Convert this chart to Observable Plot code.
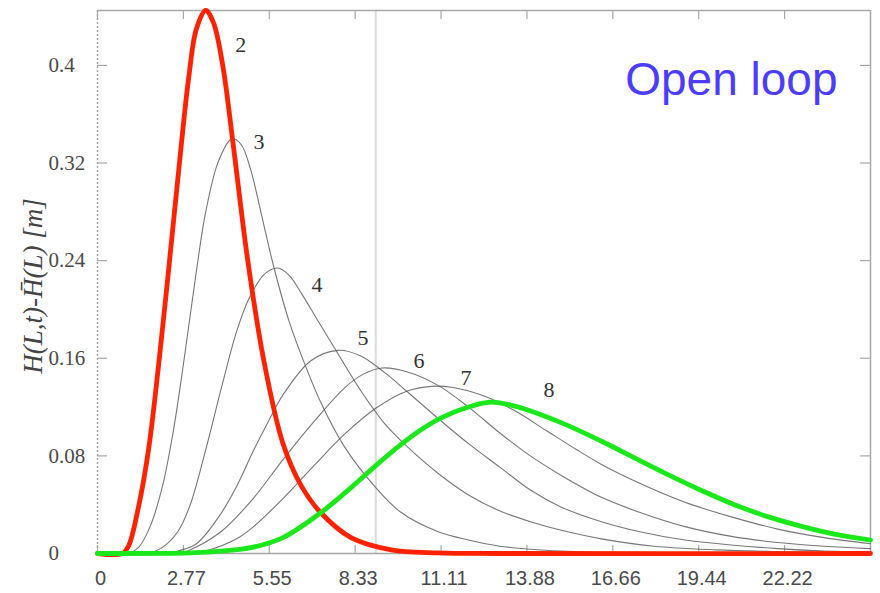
<!DOCTYPE html>
<html>
<head>
<meta charset="utf-8">
<script src="https://cdn.jsdelivr.net/npm/d3@7"></script>
<script src="https://cdn.jsdelivr.net/npm/@observablehq/plot@0.6"></script>
<style>
  html, body { margin: 0; padding: 0; background: #fff; }
</style>
</head>
<body>
<div id="chart"></div>
<script>
// ---- data ----
const xDomain = [0, 25];
const yDomain = [0, 0.445];
const xTickValues = [0, 2.7778, 5.5556, 8.3333, 11.1111, 13.8889, 16.6667, 19.4444, 22.2222];
const xTickLabels = ["0", "2.77", "5.55", "8.33", "11.11", "13.88", "16.66", "19.44", "22.22"];
const yTickValues = [0, 0.08, 0.16, 0.24, 0.32, 0.4];
const yTickLabels = ["0", "0.08", "0.16", "0.24", "0.32", "0.4"];
const refLineX = [9.0];
const yTitle = "H(L,t)-H\u0304(L) [m]";
const annotation = "Open loop";

const curveNames = ["2", "3", "4", "5", "6", "7", "8"];
const t2 = [0, 0.8, 1.0, 1.3, 1.65, 2.0, 2.33, 2.65, 2.95, 3.2, 3.5, 3.75, 4.05, 4.37, 4.86, 5.38, 6.0, 6.6, 7.2, 8.2, 9.5, 11, 13, 25];
const h2 = [0, 0, 0.006, 0.035, 0.085, 0.16, 0.24, 0.32, 0.39, 0.43, 0.445, 0.435, 0.40, 0.339, 0.24, 0.158, 0.09, 0.055, 0.034, 0.013, 0.003, 0.0005, 0, 0];
const t3 = [0, 1.0, 1.33, 1.7, 2.1, 2.45, 2.75, 3.18, 3.5, 3.92, 4.35, 4.65, 4.96, 5.3, 5.7, 6.2, 6.6, 7.2, 8.0, 9.0, 9.8, 11, 12, 13, 15, 17, 25];
const h3 = [0, 0, 0.005, 0.022, 0.055, 0.1, 0.15, 0.228, 0.28, 0.322, 0.340, 0.335, 0.314, 0.278, 0.235, 0.19, 0.162, 0.125, 0.087, 0.054, 0.034, 0.018, 0.011, 0.006, 0.002, 0.0005, 0];
const t4 = [0, 1.6, 2.1, 2.6, 3.0, 3.5, 4.05, 4.5, 4.9, 5.4, 5.83, 6.2, 6.6, 7.1, 7.65, 8.5, 9.3, 10.0, 11, 12, 13, 14, 15, 16.3, 18, 20, 22, 25];
const h4 = [0, 0, 0.005, 0.018, 0.04, 0.085, 0.14, 0.182, 0.209, 0.229, 0.234, 0.228, 0.213, 0.192, 0.169, 0.134, 0.106, 0.088, 0.066, 0.048, 0.035, 0.026, 0.019, 0.012, 0.006, 0.003, 0.0015, 0];
const t5 = [0, 2.3, 2.6, 3.2, 4.0, 4.5, 5.0, 5.5, 6.0, 6.9, 7.78, 8.5, 9.3, 10, 11, 12, 13, 14, 15, 16.3, 17.5, 19, 20.5, 22, 23.5, 25];
const h5 = [0, 0, 0.002, 0.008, 0.033, 0.055, 0.082, 0.107, 0.13, 0.158, 0.1665, 0.162, 0.148, 0.133, 0.111, 0.09, 0.071, 0.052, 0.038, 0.026, 0.018, 0.011, 0.007, 0.004, 0.002, 0.001];
const t6 = [0, 2.6, 3.0, 4.0, 5.0, 6.0, 7.0, 8.0, 8.6, 9.2, 10, 11, 12, 13, 14, 15, 16.3, 17.5, 19, 20.5, 22, 23.5, 25];
const h6 = [0, 0, 0.003, 0.018, 0.044, 0.077, 0.108, 0.136, 0.147, 0.152, 0.149, 0.138, 0.12, 0.099, 0.08, 0.064, 0.046, 0.034, 0.022, 0.014, 0.009, 0.006, 0.004];
const t7 = [0, 3.0, 3.5, 4.5, 5.0, 6.0, 7.0, 8.0, 9.0, 10.0, 10.8, 11.5, 12.5, 13.5, 14.5, 15.5, 16.3, 17.5, 19, 20.5, 22, 23.5, 25];
const h7 = [0, 0, 0.002, 0.012, 0.021, 0.045, 0.072, 0.098, 0.119, 0.133, 0.137, 0.136, 0.129, 0.117, 0.101, 0.085, 0.073, 0.058, 0.042, 0.03, 0.02, 0.013, 0.008];
const t8 = [0, 3, 4, 5, 6, 7.2, 8.2, 9.0, 9.8, 10.5, 11.1, 12, 12.7, 13.3, 14.1, 15.2, 16.3, 17.4, 18.5, 19.5, 20.6, 21.7, 22.8, 24, 25];
const h8 = [0, 0.0005, 0.002, 0.005, 0.013, 0.033, 0.054, 0.072, 0.089, 0.102, 0.111, 0.120, 0.124, 0.122, 0.116, 0.105, 0.092, 0.078, 0.064, 0.052, 0.040, 0.030, 0.022, 0.015, 0.011];
const labelX = [4.63, 5.22, 7.1, 8.59, 10.4, 11.92, 14.6];
const labelY = [0.417, 0.337, 0.22, 0.177, 0.158, 0.144, 0.134];

// ---- build tables ----
const series = [[t2, h2], [t3, h3], [t4, h4], [t5, h5], [t6, h6], [t7, h7], [t8, h8]];
const rows = [];
series.forEach(([ts, hs], k) => ts.forEach((t, i) => rows.push({curve: curveNames[k], t, h: hs[i]})));
const grayRows = rows.filter(d => d.curve !== "2" && d.curve !== "8");
const redRows = rows.filter(d => d.curve === "2");
const greenRows = rows.filter(d => d.curve === "8");
const labelRows = curveNames.map((c, i) => ({c, x: labelX[i], y: labelY[i]}));

const W = 880, H = 593, mL = 97, mR = 10, mT = 10, mB = 40;
const plotW = W - mL - mR, plotH = H - mT - mB;
const serif = "Liberation Serif, Times New Roman, serif";
const sans = "Liberation Sans, Arial, sans-serif";
const axisGray = "#a8a8a8";

const chart = Plot.plot({
  width: W, height: H,
  marginLeft: mL, marginRight: mR, marginTop: mT, marginBottom: mB,
  x: {domain: xDomain, axis: null},
  y: {domain: yDomain, axis: null},
  marks: [
    Plot.ruleX(refLineX, {stroke: "#dcdcdc", strokeWidth: 2}),
    // frame
    Plot.ruleX([xDomain[0]], {stroke: axisGray, strokeWidth: 1.5, strokeDasharray: "2,2"}),
    Plot.ruleX([xDomain[1]], {stroke: axisGray, strokeWidth: 1.5}),
    Plot.ruleY([yDomain[0]], {stroke: axisGray, strokeWidth: 1.5}),
    Plot.ruleY([yDomain[1]], {stroke: axisGray, strokeWidth: 1.5}),
    // inward ticks
    Plot.ruleX(xTickValues, {stroke: axisGray, strokeWidth: 1.2, insetTop: plotH - 8}),
    Plot.ruleX(xTickValues, {stroke: axisGray, strokeWidth: 1.2, insetBottom: plotH - 9}),
    Plot.ruleY(yTickValues, {stroke: axisGray, strokeWidth: 1.2, insetRight: plotW - 10}),
    Plot.ruleY(yTickValues, {stroke: axisGray, strokeWidth: 1.2, insetLeft: plotW - 10}),
    // tick labels
    Plot.text(xTickValues, {x: d => d, text: (d, i) => xTickLabels[i], frameAnchor: "bottom", dy: 25, dx: 3,
      lineAnchor: "middle", fontFamily: sans, fontSize: 20, fill: "#4a4a4a"}),
    Plot.text(yTickValues, {y: d => d, text: (d, i) => yTickLabels[i], frameAnchor: "left", dx: -49,
      textAnchor: "start", lineAnchor: "middle", fontFamily: serif, fontSize: 21, fill: "#4a4a4a"}),
    Plot.text([yTitle], {text: d => d, frameAnchor: "left", dx: -64, dy: 4, rotate: -90, textAnchor: "middle",
      fontFamily: serif, fontStyle: "italic", fontSize: 27, fill: "#444"}),
    // curves
    Plot.line(grayRows, {x: "t", y: "h", z: "curve", curve: "catmull-rom", stroke: "#555", strokeWidth: 1.1, strokeOpacity: 0.8}),
    Plot.line(redRows, {x: "t", y: "h", curve: "catmull-rom", stroke: "#ff2200", strokeWidth: 4.8}),
    Plot.line(greenRows, {x: "t", y: "h", curve: "catmull-rom", stroke: "#1be81b", strokeWidth: 4.8}),
    // curve labels
    Plot.text(labelRows, {x: "x", y: "y", text: "c", fontFamily: serif, fontSize: 22, fill: "#333"}),
    // annotation
    Plot.text([annotation], {text: d => d, frameAnchor: "top-right", dx: -33, dy: 70, textAnchor: "end",
      lineAnchor: "middle", fontFamily: sans, fontSize: 46, fill: "#4b3cff"})
  ]
});
document.getElementById("chart").appendChild(chart);
</script>
</body>
</html>
